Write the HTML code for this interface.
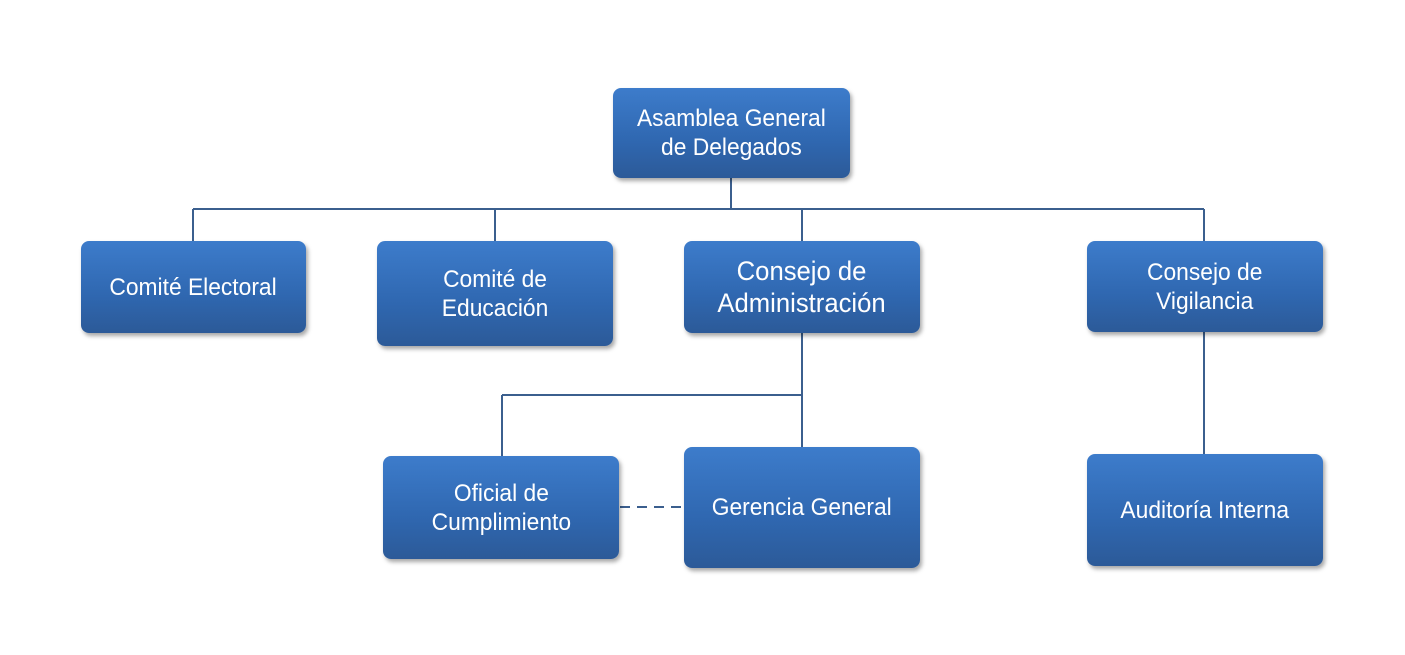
<!DOCTYPE html>
<html><head><style>
body{margin:0;width:1405px;height:655px;background:#fff;position:relative;overflow:hidden}
.b{position:absolute;border-radius:8px;background:linear-gradient(#3d7ccb,#2f67b0 60%,#2c5a98);box-shadow:2px 3px 4px rgba(0,0,0,.35);color:#fff;display:flex;align-items:center;justify-content:center;text-align:center;font-family:"Liberation Sans",sans-serif;font-size:24px;line-height:29px}
.b span{display:inline-block;transform:scaleX(0.95);white-space:nowrap}
svg{position:absolute;left:0;top:0}
</style></head><body>
<svg width="1405" height="655"><g stroke="#3b5f8e" stroke-width="2" fill="none">
<path d="M731 178V209M193 209H1204M193 209V241M495 209V241M802 209V241M1204 209V241M802 333V447M502 395H802M502 395V456M1204 332V454"/>
<path d="M620 507H684" stroke-dasharray="10 7"/></g></svg>
<div class="b" style="left:613px;top:88px;width:237px;height:90px"><span>Asamblea General<br>de Delegados</span></div>
<div class="b" style="left:81px;top:241px;width:225px;height:92px"><span>Comité Electoral</span></div>
<div class="b" style="left:377px;top:241px;width:236px;height:105px"><span>Comité de<br>Educación</span></div>
<div class="b" style="left:684px;top:241px;width:236px;height:92px;font-size:27px;line-height:32px"><span>Consejo de<br>Administración</span></div>
<div class="b" style="left:1087px;top:241px;width:236px;height:91px"><span>Consejo de<br>Vigilancia</span></div>
<div class="b" style="left:383px;top:456px;width:236px;height:103px"><span>Oficial de<br>Cumplimiento</span></div>
<div class="b" style="left:684px;top:447px;width:236px;height:121px"><span>Gerencia General</span></div>
<div class="b" style="left:1087px;top:454px;width:236px;height:112px"><span>Auditoría Interna</span></div>
</body></html>
